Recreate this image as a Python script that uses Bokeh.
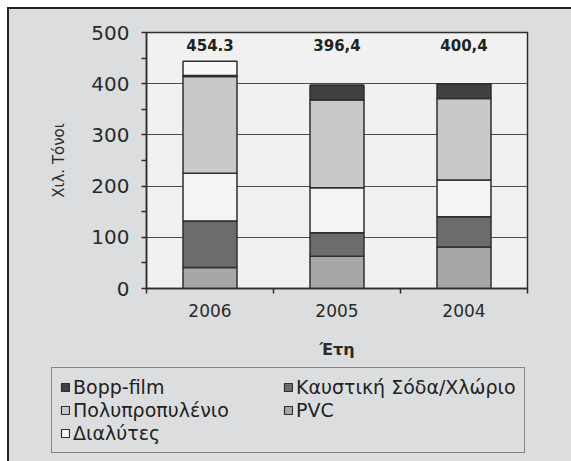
from bokeh.plotting import figure
from bokeh.layouts import column
from bokeh.models import ColumnDataSource, FixedTicker, Legend, LegendItem, Range1d
from bokeh.core.properties import value
from bokeh.embed import file_html
from bokeh.resources import INLINE

years = ["2006", "2005", "2004"]
pvc = [41, 63, 81]
caustic = [91, 46, 59]
solvents = [93, 88, 72]
polyprop = [189, 171, 159]
bopp = [2, 29, 29]
extra = [28, 0, 0]
totals = ["454.3", "396,4", "400,4"]
y_ticks = [0, 100, 200, 300, 400, 500]

FONT = "DejaVu Sans"
BG = "#dcdddf"
FRAME_BG = "#f1f1f1"
EDGE = "#2e2e2e"

x_pos = [i + 0.5 for i in range(len(years))]
source = ColumnDataSource(dict(x=x_pos, pvc=pvc, caustic=caustic, solvents=solvents,
                               polyprop=polyprop, bopp=bopp, extra=extra,
                               label=totals, label_y=[475] * len(years)))

p = figure(width=562, height=357, output_backend="svg", toolbar_location=None,
           x_range=Range1d(0, len(years)), y_range=Range1d(0, 500),
           min_border_left=137, min_border_right=44, min_border_top=23, min_border_bottom=78)
p.frame_align = False
p.background_fill_color = FRAME_BG
p.border_fill_color = BG
p.outline_line_color = EDGE
p.outline_line_width = 1.5

stack = ["pvc", "caustic", "solvents", "polyprop", "bopp", "extra"]
colors = ["#a6a7a9", "#6b6c6e", "#f4f4f4", "#c8c9cb", "#404040", "#f8f8f8"]
p.vbar_stack(stack, x="x", width=0.425, source=source, fill_color=colors,
             line_color=EDGE, line_width=1.5)

p.text(x="x", y="label_y", text="label", source=source, text_font=value(FONT),
       text_font_style="bold", text_font_size="15px", text_color="#222",
       text_align="center", text_baseline="middle")

# axes
p.xaxis.ticker = FixedTicker(ticks=x_pos, minor_ticks=list(range(len(years) + 1)))
p.xaxis.major_label_overrides = {x: y for x, y in zip(x_pos, years)}
p.xaxis.major_tick_out = 0
p.xaxis.major_tick_in = 0
p.xaxis.minor_tick_out = 5
p.xaxis.minor_tick_in = 0
p.xaxis.axis_label = "Έτη"
p.xaxis.axis_label_text_font_style = "bold"
p.xaxis.axis_label_text_font_size = "16px"
p.xaxis.axis_label_standoff = 20
p.xaxis.major_label_standoff = 10

p.yaxis.ticker = FixedTicker(ticks=y_ticks, minor_ticks=[v + 50 for v in y_ticks[:-1]])
p.yaxis.major_tick_out = 5
p.yaxis.major_tick_in = 0
p.yaxis.minor_tick_out = 5
p.yaxis.minor_tick_in = 0
p.yaxis.axis_label = "Χιλ. Τόνοι"
p.yaxis.axis_label_text_font_style = "normal"
p.yaxis.axis_label_text_font_size = "15px"
p.yaxis.axis_label_standoff = 20
p.yaxis.major_label_standoff = 12

for ax in (p.xaxis[0], p.yaxis[0]):
    ax.axis_line_color = EDGE
    ax.axis_line_width = 1.5
    ax.major_tick_line_color = EDGE
    ax.minor_tick_line_color = EDGE
    ax.major_tick_line_width = 1.5
    ax.minor_tick_line_width = 1.5
    ax.major_label_text_font = FONT
    ax.axis_label_text_font = FONT
    ax.major_label_text_color = "#2a2a2a"
    ax.axis_label_text_color = "#2a2a2a"
p.xaxis.major_label_text_font_size = "17px"
p.yaxis.major_label_text_font_size = "20px"

p.xgrid.visible = False
p.ygrid.ticker = FixedTicker(ticks=y_ticks)
p.ygrid.grid_line_color = "#4a4a4a"
p.ygrid.grid_line_width = 1

# legend strip: same stacked series drawn out of view, only the legend shows
names = {"bopp": "Bopp-film", "caustic": "Καυστική Σόδα/Χλώριο", "polyprop": "Πολυπροπυλένιο",
         "pvc": "PVC", "solvents": "Διαλύτες"}
q = figure(width=562, height=95, output_backend="svg", toolbar_location=None,
           x_range=Range1d(0, len(years)), y_range=Range1d(1000, 1100),
           min_border=0, min_border_left=0, min_border_right=0, min_border_top=0, min_border_bottom=0)
q.frame_align = False
q.axis.visible = False
q.grid.visible = False
q.outline_line_color = None
q.background_fill_color = BG
q.border_fill_color = BG
leg_colors = ["#a6a7a9", "#6b6c6e", "#f8f8f8", "#c8c9cb", "#404040", "#f8f8f8"]
qrs = q.vbar_stack(stack, x="x", width=0.425, source=source, fill_color=leg_colors,
                   line_color=EDGE, line_width=1.2)
rmap = dict(zip(stack, qrs))
order = ["bopp", "polyprop", "solvents", "caustic", "pvc"]
legend = Legend(items=[LegendItem(label=names[k], renderers=[rmap[k]]) for k in order],
                location=(42, 8), orientation="vertical", ncols=2,
                glyph_width=10, glyph_height=10, label_standoff=3,
                label_height=18, label_width=209, spacing=1, padding=8, margin=0,
                label_text_font=FONT, label_text_font_size="19px", label_text_color="#222",
                border_line_color=EDGE, border_line_width=1.5,
                background_fill_color=BG, background_fill_alpha=1.0)
q.add_layout(legend, "center")

layout = column(p, q, spacing=0,
                styles={"margin": "7px 0 0 7px", "border-top": "2px solid #222",
                        "border-left": "2px solid #222", "background-color": BG})

open("out.html", "w").write(file_html(layout, INLINE))
